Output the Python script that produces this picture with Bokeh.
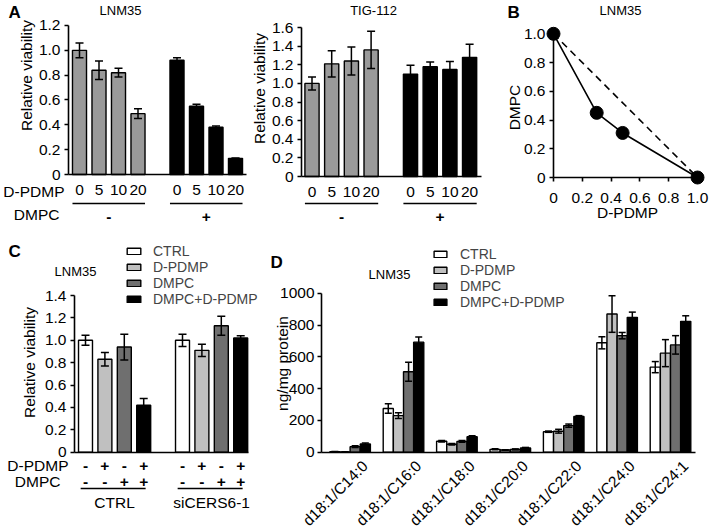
import math
from bokeh.plotting import figure
from bokeh.models import (Range1d, FixedTicker, NumeralTickFormatter, ColumnDataSource,
                          Whisker, TeeHead, Legend, LegendItem)
from bokeh.layouts import row, column
from bokeh.embed import file_html
from bokeh.resources import INLINE
from bokeh.core.properties import value

FONT = "Liberation Sans"
FS = "15.5px"

# ---------------- data ----------------
doses = ["0", "5", "10", "20"]
dmpc_groups = ["-", "+"]

a_lnm_minus = [1.00, 0.84, 0.82, 0.49]
a_lnm_minus_err = [0.06, 0.075, 0.035, 0.04]
a_lnm_plus = [0.92, 0.55, 0.38, 0.13]
a_lnm_plus_err = [0.02, 0.015, 0.01, 0.0]
a_lnm_yticks = [0, 0.2, 0.4, 0.6, 0.8, 1.0, 1.2]

a_tig_minus = [1.00, 1.21, 1.24, 1.36]
a_tig_minus_err = [0.07, 0.14, 0.15, 0.20]
a_tig_plus = [1.10, 1.18, 1.15, 1.28]
a_tig_plus_err = [0.095, 0.05, 0.085, 0.14]
a_tig_yticks = [0, 0.2, 0.4, 0.6, 0.8, 1.0, 1.2, 1.4, 1.6]

b_dpdmp = [0.0, 0.30, 0.48, 1.0]
b_dmpc = [1.0, 0.45, 0.31, 0.0]
b_additive_x = [0.0, 1.0]
b_additive_y = [1.0, 0.0]
b_ticks = [0, 0.2, 0.4, 0.6, 0.8, 1.0]

treatments = ["CTRL", "D-PDMP", "DMPC", "DMPC+D-PDMP"]
treat_colors = ["#ffffff", "#c0c0c0", "#6f6f6f", "#000000"]
c_groups = ["CTRL", "siCERS6-1"]
c_ctrl = [1.00, 0.83, 0.94, 0.42]
c_ctrl_err = [0.045, 0.06, 0.115, 0.06]
c_si = [1.00, 0.91, 1.13, 1.02]
c_si_err = [0.055, 0.055, 0.085, 0.02]
c_dpdmp_signs = ["-", "+", "-", "+"]
c_dmpc_signs = ["-", "-", "+", "+"]
c_yticks = [0, 0.2, 0.4, 0.6, 0.8, 1.0, 1.2, 1.4]

d_species = ["d18:1/C14:0", "d18:1/C16:0", "d18:1/C18:0", "d18:1/C20:0",
             "d18:1/C22:0", "d18:1/C24:0", "d18:1/C24:1"]
d_ctrl = [3, 275, 69, 18, 129, 688, 535]
d_ctrl_err = [1, 30, 5, 3, 4, 38, 35]
d_dpdmp = [2, 230, 50, 14, 132, 869, 623]
d_dpdmp_err = [1, 18, 5, 2, 12, 115, 85]
d_dmpc = [35, 506, 68, 18, 167, 733, 675]
d_dmpc_err = [6, 60, 5, 3, 10, 20, 58]
d_combo = [52, 692, 97, 27, 225, 848, 823]
d_combo_err = [6, 33, 6, 3, 5, 33, 35]
d_yticks = [0, 200, 400, 600, 800, 1000]

A_GRAY = "#9a9a9a"


# ---------------- helpers ----------------
def panel(left, top, w, h, xref_px, xref, xs, yref_px, yref, ys):
    X = lambda px: xref + (px - xref_px) / xs
    Y = lambda py: yref + (yref_px - py) / ys
    p = figure(width=w, height=h, x_range=Range1d(X(left), X(left + w)),
               y_range=Range1d(Y(top + h), Y(top)), output_backend="svg",
               toolbar_location=None, min_border=0)
    p.outline_line_color = None
    p.grid.visible = False
    p.background_fill_color = "white"
    p.border_fill_color = "white"
    return p, X, Y


def style_axes(p, xloc, yloc, xb, yb, yticks):
    xa, ya = p.xaxis[0], p.yaxis[0]
    ya.fixed_location = xloc
    xa.fixed_location = yloc
    xa.bounds = xb
    ya.bounds = yb
    for a in (xa, ya):
        a.axis_line_width = 1.6
        a.axis_line_color = "black"
        a.major_tick_line_width = 1.6
        a.major_tick_line_color = "black"
        a.minor_tick_line_color = None
        a.major_label_text_font = FONT
        a.major_label_text_font_size = FS
        a.major_label_text_color = "black"
    ya.ticker = FixedTicker(ticks=yticks, minor_ticks=[])
    ya.major_tick_out = 4
    ya.major_tick_in = 0
    ya.major_label_standoff = 4
    return xa, ya


def txt(p, x, y, s, size=FS, align="center", angle=0.0, bold=False):
    p.text(x=[x], y=[y], text=[s], text_font=value(FONT), text_font_size=size,
           text_align=align, text_baseline="middle", angle=angle,
           text_font_style="bold" if bold else "normal", text_color="black")


def whiskers(p, xs, tops, errs, cap):
    src = ColumnDataSource(dict(x=xs, upper=[t + e for t, e in zip(tops, errs)],
                                lower=[t - e for t, e in zip(tops, errs)]))
    w = Whisker(source=src, base="x", upper="upper", lower="lower",
                line_width=1.5, line_color="black", level="overlay",
                upper_head=TeeHead(size=cap, line_width=1.5, line_color="black"),
                lower_head=TeeHead(size=cap, line_width=1.5, line_color="black"))
    p.add_layout(w)


def panel_a(p, X, Y, minus, minus_err, plus, plus_err, yticks, ymax, title, title_x, ylab_xy):
    xs_minus = [1 + i for i in range(len(doses))]
    xs_plus = [1 + len(doses) + 1 + i for i in range(len(doses))]
    p.vbar(x=xs_minus, top=minus, width=0.72, fill_color=A_GRAY, line_color="black", line_width=1.4)
    p.vbar(x=xs_plus, top=plus, width=0.72, fill_color="black", line_color="black", line_width=1.4)
    whiskers(p, xs_minus, minus, minus_err, 8)
    whiskers(p, xs_plus, plus, plus_err, 8)
    xa, ya = style_axes(p, X(ylab_xy[2]), 0, (X(ylab_xy[2]), xs_plus[-1] + 0.58), (0, ymax), yticks)
    ya.formatter = NumeralTickFormatter(format="0.0")
    ya.major_label_overrides = {0: "0"}
    xa.ticker = FixedTicker(ticks=xs_minus + xs_plus, minor_ticks=[])
    xa.major_label_overrides = {x: d for x, d in zip(xs_minus + xs_plus, doses + doses)}
    xa.major_tick_out = 0
    xa.major_tick_in = 0
    xa.major_label_standoff = 10
    txt(p, X(title_x), Y(10), title, size="13px")
    txt(p, X(ylab_xy[0]), Y(ylab_xy[1]), "Relative viability", angle=math.pi / 2)
    for xs, sign in ((xs_minus, dmpc_groups[0]), (xs_plus, dmpc_groups[1])):
        p.segment(x0=[xs[0] - 0.36], x1=[xs[-1] + 0.36], y0=[Y(203)], y1=[Y(203)],
                  line_color="black", line_width=1.6)
        txt(p, (xs[0] + xs[-1]) / 2, Y(216), sign, bold=True)
    return xs_minus, xs_plus


# ---------------- Panel A (LNM35) ----------------
a1, X1, Y1 = panel(0, 0, 250, 240, 79, 1, 19.5, 174, 0, 124.17)
panel_a(a1, X1, Y1, a_lnm_minus, a_lnm_minus_err, a_lnm_plus, a_lnm_plus_err,
        a_lnm_yticks, 1.2, "LNM35", 120, (26, 75, 68))
txt(a1, X1(8), Y1(12), "A", size="17px", align="left", bold=True)
txt(a1, X1(64), Y1(191), "D-PDMP", align="right")
txt(a1, X1(59), Y1(214), "DMPC", align="right")

# ---------------- Panel A (TIG-112) ----------------
a2, X2, Y2 = panel(250, 0, 236, 240, 311.5, 1, 19.7, 176, 0, 93.1)
panel_a(a2, X2, Y2, a_tig_minus, a_tig_minus_err, a_tig_plus, a_tig_plus_err,
        a_tig_yticks, 1.6, "TIG-112", 373, (259, 88, 301))

# ---------------- Panel B ----------------
b, XB, YB = panel(486, 0, 233, 240, 553, 0, 144, 177, 0, 143.7)
b.line(b_additive_x, b_additive_y, line_color="black", line_width=1.6, line_dash="7 5")
b.line(b_dpdmp, b_dmpc, line_color="black", line_width=1.6)
b.scatter(b_dpdmp, b_dmpc, size=13, fill_color="black", line_color="black")
xa, ya = style_axes(b, 0, 0, (0, 1.0), (0, 1.0), b_ticks)
for a in (xa, ya):
    a.formatter = NumeralTickFormatter(format="0.0")
    a.major_label_overrides = {0: "0"}
xa.ticker = FixedTicker(ticks=b_ticks, minor_ticks=[])
xa.major_tick_out = 4
xa.major_tick_in = 0
xa.major_label_standoff = 11
txt(b, XB(507), YB(11.5), "B", size="17px", align="left", bold=True)
txt(b, XB(620), YB(10), "LNM35", size="13px")
txt(b, XB(514), YB(107), "DMPC", angle=math.pi / 2)
txt(b, XB(627), YB(212), "D-PDMP")

# ---------------- Panel C ----------------
c, XC, YC = panel(0, 240, 268, 288, 85, 1, 19.4, 451.7, 0, 111.9)
c_items = []
c_x_groups = [[1 + t, 6 + t] for t in range(len(treatments))]
for t, name in enumerate(treatments):
    xs = c_x_groups[t]
    tops = [c_ctrl[t], c_si[t]]
    r = c.vbar(x=xs, top=tops, width=0.72, fill_color=treat_colors[t],
               line_color="black", line_width=1.4)
    c_items.append(LegendItem(label=name, renderers=[r]))
for t in range(len(treatments)):
    whiskers(c, c_x_groups[t], [c_ctrl[t], c_si[t]], [c_ctrl_err[t], c_si_err[t]], 8)
xa, ya = style_axes(c, XC(74), 0, (XC(74), 9.4), (0, 1.4), c_yticks)
ya.formatter = NumeralTickFormatter(format="0.0")
ya.major_label_overrides = {0: "0"}
xa.ticker = FixedTicker(ticks=[], minor_ticks=[])
c_leg = Legend(items=c_items, location=(125, 221), orientation="vertical",
               glyph_width=17, glyph_height=8, label_standoff=11, spacing=0,
               padding=0, margin=0, label_text_font=FONT, label_text_font_size="14px",
               background_fill_alpha=0, border_line_alpha=0)
c.add_layout(c_leg)
txt(c, XC(8), YC(251), "C", size="17px", align="left", bold=True)
txt(c, XC(75), YC(271), "LNM35", size="13px")
txt(c, XC(29), YC(362), "Relative viability", angle=math.pi / 2)
txt(c, XC(68), YC(465), "D-PDMP", align="right")
txt(c, XC(60), YC(481), "DMPC", align="right")
for g, gname in enumerate(c_groups):
    xs = [c_x_groups[t][g] for t in range(len(treatments))]
    for t in range(len(treatments)):
        txt(c, xs[t], YC(465), c_dpdmp_signs[t], bold=True)
        txt(c, xs[t], YC(481), c_dmpc_signs[t], bold=True)
    c.segment(x0=[xs[0] - 0.25], x1=[xs[-1] + 0.1], y0=[YC(488)], y1=[YC(488)],
              line_color="black", line_width=1.6)
    txt(c, (xs[0] + xs[-1]) / 2, YC(502), gname)

# ---------------- Panel D ----------------
d, XD, YD = panel(268, 240, 451, 288, 349.6, 1, 53.4, 451.7, 0, 0.159)
d_series = [d_ctrl, d_dpdmp, d_dmpc, d_combo]
d_errs = [d_ctrl_err, d_dpdmp_err, d_dmpc_err, d_combo_err]
d_offsets = [-0.285, -0.095, 0.095, 0.285]
d_centers = [1 + i for i in range(len(d_species))]
d_items = []
for t, name in enumerate(treatments):
    xs = [cx + d_offsets[t] for cx in d_centers]
    r = d.vbar(x=xs, top=d_series[t], width=0.19, fill_color=treat_colors[t],
               line_color="black", line_width=1.4)
    d_items.append(LegendItem(label=name, renderers=[r]))
for t in range(len(treatments)):
    xs = [cx + d_offsets[t] for cx in d_centers]
    whiskers(d, xs, d_series[t], d_errs[t], 7)
xa, ya = style_axes(d, XD(321), 0, (XD(321), XD(695)), (0, 1000), d_yticks)
ya.major_label_standoff = 3
# rotated labels hang slightly right of each group centre, as in the original
d_label_pos = [cx + 0.28 for cx in d_centers]
xa.ticker = FixedTicker(ticks=d_label_pos, minor_ticks=[])
xa.major_label_overrides = {x: s for x, s in zip(d_label_pos, d_species)}
xa.major_label_orientation = math.pi / 4
xa.major_tick_out = 0
xa.major_tick_in = 0
xa.major_label_standoff = 11
d_leg = Legend(items=d_items, location=(164, 218), orientation="vertical",
               glyph_width=16, glyph_height=8, label_standoff=12, spacing=0,
               padding=0, margin=0, label_text_font=FONT, label_text_font_size="14px",
               background_fill_alpha=0, border_line_alpha=0)
d.add_layout(d_leg)
txt(d, XD(270), YD(262), "D", size="17px", align="left", bold=True)
txt(d, XD(389), YD(274), "LNM35", size="13px")
txt(d, XD(282), YD(363), "ng/mg protein", angle=math.pi / 2)

layout = column(row(a1, a2, b), row(c, d))
open("out.html", "w").write(file_html(layout, INLINE))
